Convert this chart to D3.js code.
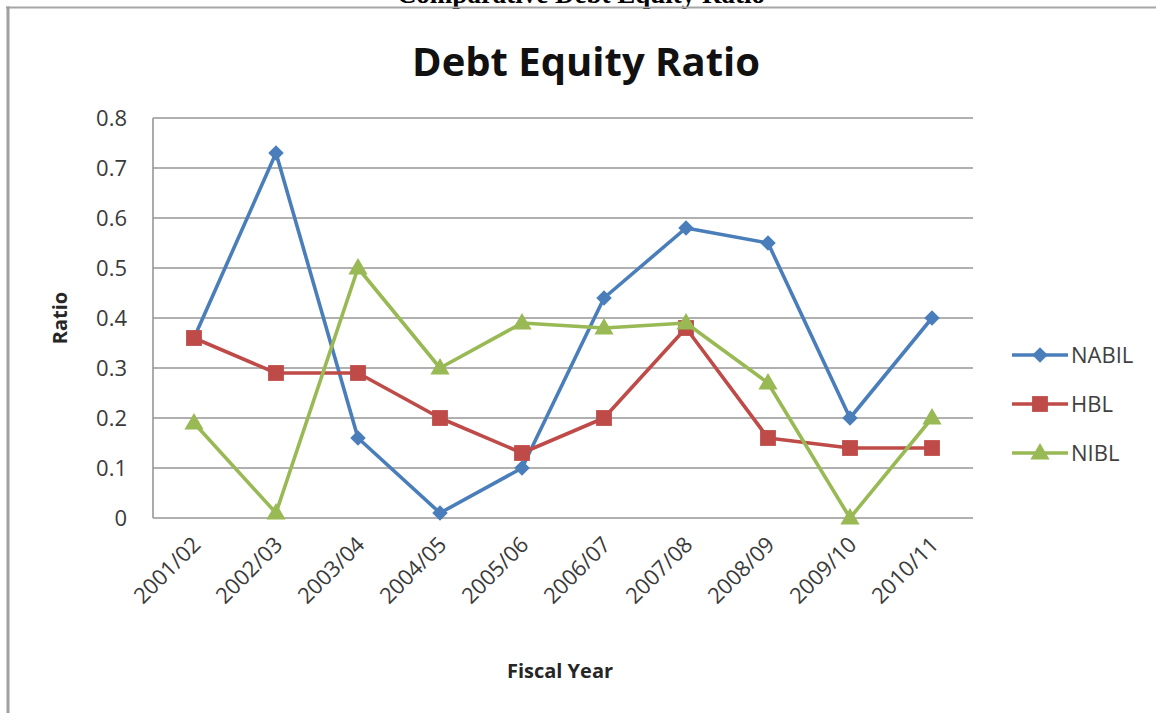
<!DOCTYPE html>
<html>
<head>
<meta charset="utf-8">
<script src="https://cdn.jsdelivr.net/npm/d3@7"></script>
<style>
  body { margin: 0; background: #fff; }
  svg { display: block; font-family: "Open Sans", sans-serif; }
  .tick text { fill: #3a3a3a; font-size: 22px; font-family: "Open Sans", sans-serif; }
  .axis-title { font-weight: bold; font-size: 20px; fill: #262626; }
</style>
</head>
<body>
<script>
// data
const years = ["2001/02", "2002/03", "2003/04", "2004/05", "2005/06",
               "2006/07", "2007/08", "2008/09", "2009/10", "2010/11"];
const nabil = [0.36, 0.73, 0.16, 0.01, 0.10, 0.44, 0.58, 0.55, 0.20, 0.40];
const hbl   = [0.36, 0.29, 0.29, 0.20, 0.13, 0.20, 0.38, 0.16, 0.14, 0.14];
const nibl  = [0.19, 0.01, 0.50, 0.30, 0.39, 0.38, 0.39, 0.27, 0.00, 0.20];
const yTicks = [0, 0.1, 0.2, 0.3, 0.4, 0.5, 0.6, 0.7, 0.8];

const series = [
  { name: "NABIL", values: nabil, color: "#4A7EBB", shape: "diamond" },
  { name: "HBL",   values: hbl,   color: "#BE4B48", shape: "square" },
  { name: "NIBL",  values: nibl,  color: "#98B954", shape: "triangle" }
];

const W = 1156, H = 713;
const plot = { left: 153, right: 973, top: 118, bottom: 518 };

const svg = d3.select("body").append("svg")
    .attr("width", W)
    .attr("height", H);

// page heading, cut off at the top edge like in the scan
svg.append("text")
    .attr("x", 581)
    .attr("y", 3)
    .attr("text-anchor", "middle")
    .style("font-family", "'Liberation Serif', serif")
    .style("font-weight", "bold")
    .style("font-size", "27px")
    .text("Comparative Debt Equity Ratio");

// chart frame (only top and left edges show)
svg.append("line")
    .attr("x1", 6).attr("x2", W).attr("y1", 7.5).attr("y2", 7.5)
    .attr("stroke", "#a6a6a6").attr("stroke-width", 2);
svg.append("line")
    .attr("x1", 8).attr("x2", 8).attr("y1", 6.5).attr("y2", H)
    .attr("stroke", "#a0a0a0").attr("stroke-width", 3);

svg.append("text")
    .attr("x", 586)
    .attr("y", 76)
    .attr("text-anchor", "middle")
    .style("font-weight", "bold")
    .style("font-size", "40px")
    .attr("fill", "#111")
    .text("Debt Equity Ratio");

const x = d3.scaleBand()
    .domain(years)
    .range([plot.left, plot.right]);

const y = d3.scaleLinear()
    .domain([0, 0.8])
    .range([plot.bottom, plot.top]);

// gridlines
svg.append("g")
    .selectAll("line")
    .data(yTicks)
    .join("line")
    .attr("x1", plot.left).attr("x2", plot.right)
    .attr("y1", d => y(d)).attr("y2", d => y(d))
    .attr("stroke", "#969696")
    .attr("stroke-width", 1.6);

svg.append("line")
    .attr("x1", plot.left).attr("x2", plot.left)
    .attr("y1", plot.top).attr("y2", plot.bottom)
    .attr("stroke", "#969696")
    .attr("stroke-width", 1.6);

const yAxis = svg.append("g")
    .attr("transform", `translate(${plot.left},0)`)
    .call(d3.axisLeft(y).tickValues(yTicks).tickSize(0).tickPadding(26)
        .tickFormat(d => d === 0 ? "0" : d3.format(".1f")(d)));
yAxis.select(".domain").remove();
yAxis.selectAll("text").attr("dy", "0.35em");

const xAxis = svg.append("g")
    .attr("transform", `translate(0,${plot.bottom})`)
    .call(d3.axisBottom(x).tickSize(0).tickPadding(0));
xAxis.select(".domain").remove();
xAxis.selectAll("text")
    .attr("text-anchor", "end")
    .attr("dy", 0)
    .attr("transform", "translate(8,28) rotate(-45)");

svg.append("text")
    .attr("class", "axis-title")
    .attr("transform", `translate(67,${(plot.top + plot.bottom) / 2}) rotate(-90)`)
    .attr("text-anchor", "middle")
    .text("Ratio");

svg.append("text")
    .attr("class", "axis-title")
    .attr("x", 560)
    .attr("y", 678)
    .attr("text-anchor", "middle")
    .text("Fiscal Year");

const symbolFor = {
  diamond: d3.symbol().type(d3.symbolSquare).size(120),
  square: d3.symbol().type(d3.symbolSquare).size(250),
  triangle: d3.symbol().type(d3.symbolTriangle).size(160)
};
const rotFor = { diamond: 45, square: 0, triangle: 0 };

const line = d3.line()
    .x((d, i) => x(years[i]) + x.bandwidth() / 2)
    .y(d => y(d));

series.forEach(s => {
  const g = svg.append("g");
  g.append("path")
      .attr("d", line(s.values))
      .attr("fill", "none")
      .attr("stroke", s.color)
      .attr("stroke-width", 3.6)
      .attr("stroke-linejoin", "round");
  g.selectAll("path.marker")
      .data(s.values)
      .join("path")
      .attr("class", "marker")
      .attr("d", symbolFor[s.shape]())
      .attr("fill", s.color)
      .attr("transform", (d, i) =>
        `translate(${x(years[i]) + x.bandwidth() / 2},${y(d) + (s.shape === "triangle" ? 1 : 0)}) rotate(${rotFor[s.shape]})`);
});

// legend
const legend = svg.append("g")
    .attr("transform", "translate(1012,355)");
series.forEach((s, i) => {
  const row = legend.append("g").attr("transform", `translate(0,${i * 49})`);
  row.append("line")
      .attr("x1", 0).attr("x2", 56)
      .attr("stroke", s.color).attr("stroke-width", 3.6);
  row.append("path")
      .attr("d", symbolFor[s.shape]())
      .attr("fill", s.color)
      .attr("transform", `translate(28,${s.shape === "triangle" ? 1 : 0}) rotate(${rotFor[s.shape]})`);
  row.append("text")
      .attr("x", 59)
      .attr("dy", "0.35em")
      .style("font-size", "22px")
      .attr("fill", "#404040")
      .text(s.name);
});
</script>
</body>
</html>
